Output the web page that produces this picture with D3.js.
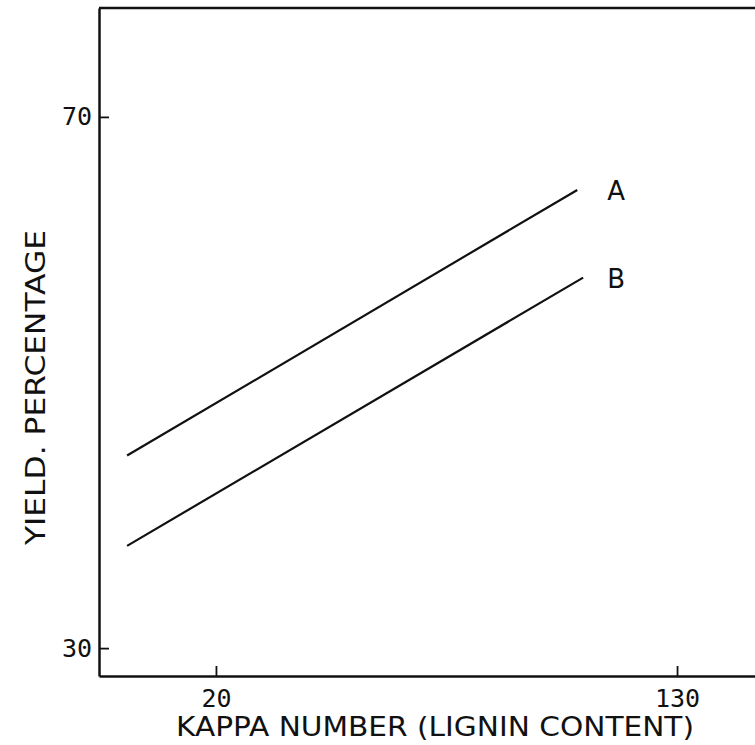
<!DOCTYPE html>
<html><head><meta charset="utf-8">
<script src="https://cdn.jsdelivr.net/npm/d3@7"></script>
<style>body{margin:0;background:#fff}svg{display:block}</style>
</head><body>
<svg id="c" width="755" height="745"></svg>
<script>
const xTicks = [20, 130];
const yTicks = [30, 70];
const seriesNames = ["A", "B"];
const kappaA = [-1.2, 106.2];
const yieldA = [44.5, 64.5];
const kappaB = [-1.2, 107.6];
const yieldB = [37.7, 57.9];
const xTitle = "KAPPA NUMBER (LIGNIN CONTENT)";
const yTitle = "YIELD. PERCENTAGE";

const svg = d3.select("#c");
const x = d3.scaleLinear().domain([-7.9, 148.6]).range([99, 755]);
const y = d3.scaleLinear().domain([27.9, 78.2]).range([676, 8]);
const mono = "'DejaVu Sans Mono', monospace";
const ink = "#111";

// top border
svg.append("line").attr("x1", x.range()[0]).attr("x2", x.range()[1])
  .attr("y1", y.range()[1]).attr("y2", y.range()[1])
  .attr("stroke", ink).attr("stroke-width", 2.5);

const gx = svg.append("g").attr("transform", `translate(0,${y.range()[0]})`)
  .call(d3.axisBottom(x).tickValues(xTicks).tickSize(-10).tickSizeOuter(0).tickPadding(13).tickFormat(d3.format("d")));
const gy = svg.append("g").attr("transform", `translate(${x.range()[0]},0)`)
  .call(d3.axisLeft(y).tickValues(yTicks).tickSize(-10).tickSizeOuter(0).tickPadding(7).tickFormat(d3.format("d")));
[gx, gy].forEach(g => {
  g.select(".domain").attr("stroke", ink).attr("stroke-width", 2.5);
  g.selectAll(".tick line").attr("stroke", ink).attr("stroke-width", 1.8);
  g.selectAll(".tick text").attr("fill", ink).attr("font-family", mono).attr("font-size", 25);
});

const series = [
  {name: seriesNames[0], xs: kappaA, ys: yieldA},
  {name: seriesNames[1], xs: kappaB, ys: yieldB}
];
const labelX = d3.max(series, s => x(s.xs[s.xs.length - 1])) + 24;
const line = d3.line().x(d => x(d[0])).y(d => y(d[1]));
series.forEach(s => {
  const pts = s.xs.map((v, i) => [v, s.ys[i]]);
  svg.append("path").attr("d", line(pts)).attr("fill", "none")
    .attr("stroke", ink).attr("stroke-width", 2.2);
  const last = pts[pts.length - 1];
  svg.append("text").attr("x", labelX).attr("y", y(last[1]) + 10)
    .attr("font-family", "'DejaVu Sans', sans-serif").attr("font-size", 26)
    .attr("fill", ink).text(s.name);
});

svg.append("text").attr("x", 176).attr("y", 736)
  .attr("font-family", "'DejaVu Sans', sans-serif").attr("font-size", 27)
  .attr("textLength", 518).attr("lengthAdjust", "spacingAndGlyphs")
  .attr("fill", ink).text(xTitle);

svg.append("text").attr("transform", "translate(45,545) rotate(-90)")
  .attr("font-family", "'DejaVu Sans', sans-serif").attr("font-size", 27)
  .attr("textLength", 315).attr("lengthAdjust", "spacingAndGlyphs")
  .attr("fill", ink).text(yTitle);
</script>
</body></html>
